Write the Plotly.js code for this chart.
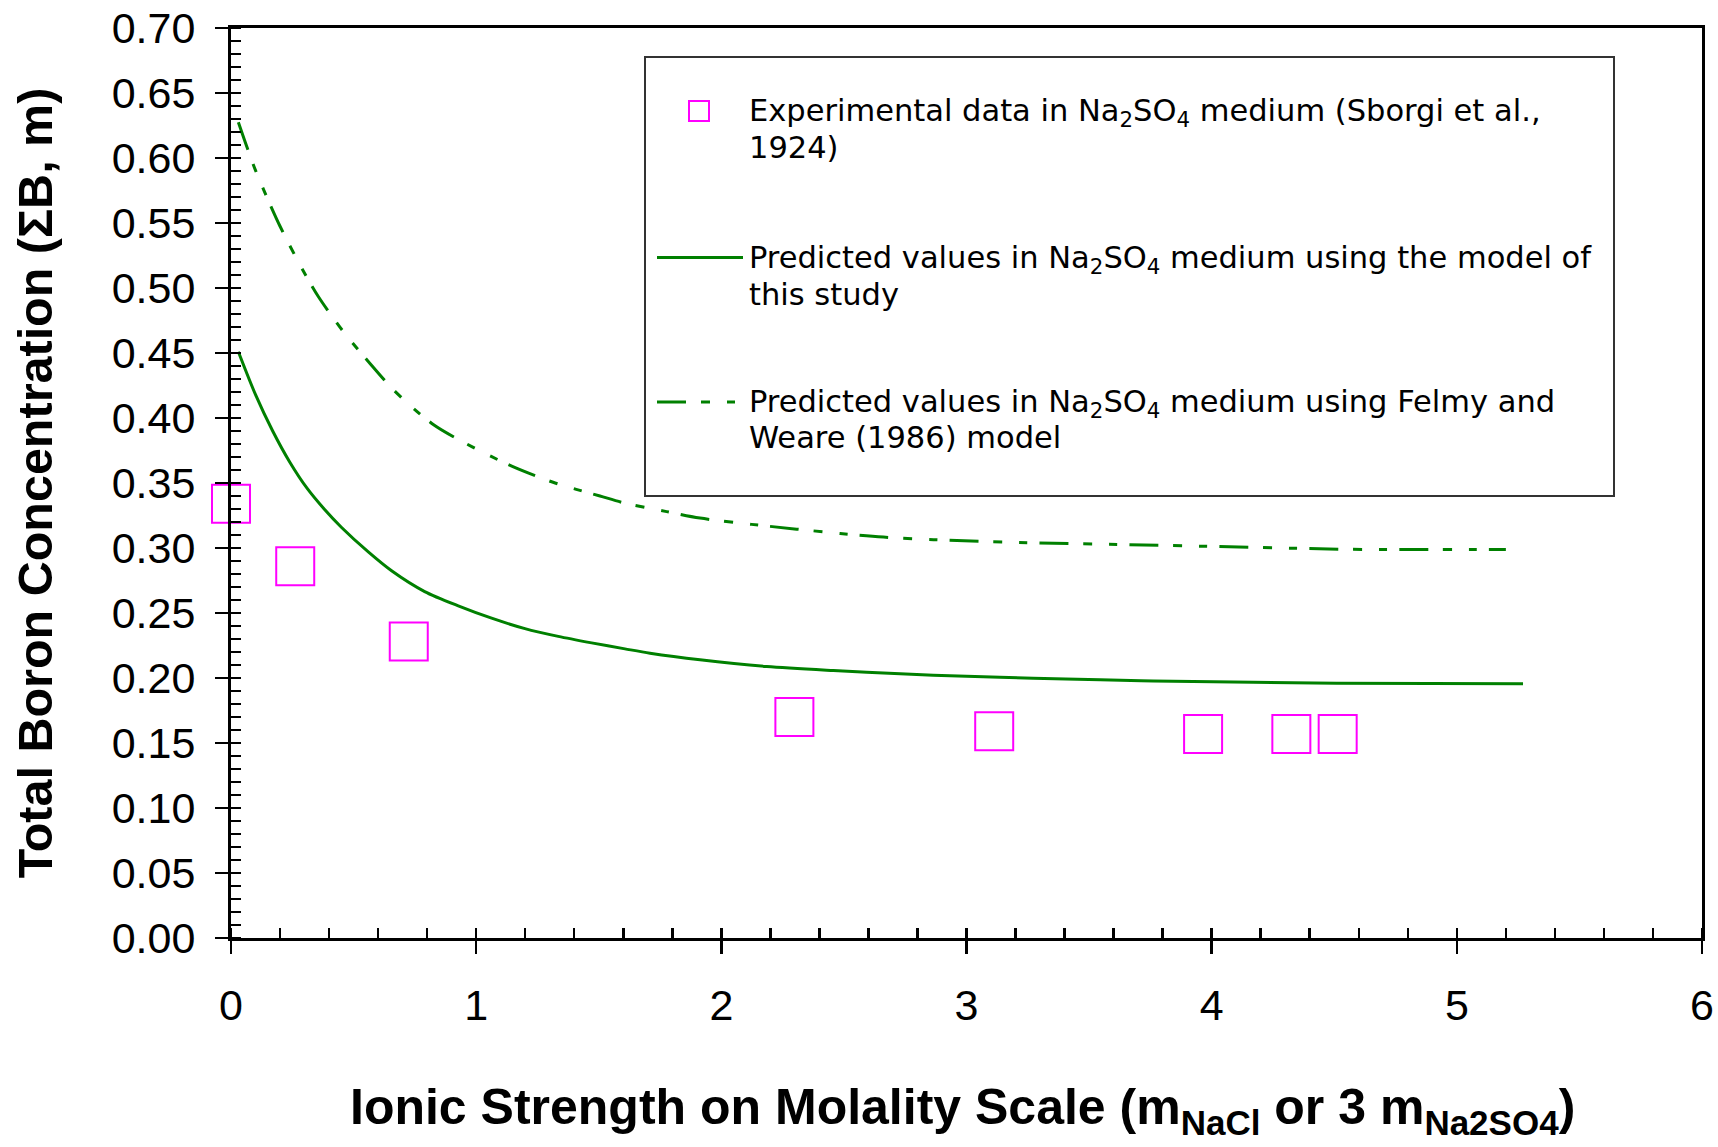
<!DOCTYPE html>
<html>
<head>
<meta charset="utf-8">
<script src="https://cdn.plot.ly/plotly-3.0.1.min.js"></script>
<style>
  html, body { margin: 0; padding: 0; background: #ffffff; }
  #chart { width: 1718px; height: 1147px; }
</style>
</head>
<body>
<div id="chart"></div>
<script>
// ---- Data ----
const expX = [0, 0.262, 0.725, 2.298, 3.113, 3.965, 4.325, 4.514];
const expY = [0.334, 0.286, 0.228, 0.170, 0.159, 0.157, 0.157, 0.157];

const modelX = [0.03, 0.1, 0.17, 0.24, 0.31, 0.38, 0.45, 0.56, 0.655, 0.79, 0.927, 1.063, 1.199, 1.335, 1.471, 1.607, 1.709, 1.913, 2.185, 2.457, 2.729, 3.0, 3.272, 3.545, 3.762, 4.51, 5.27];
const modelY = [0.451, 0.418, 0.390, 0.366, 0.346, 0.330, 0.316, 0.297, 0.2825, 0.2665, 0.2555, 0.246, 0.238, 0.232, 0.227, 0.2224, 0.2191, 0.214, 0.2088, 0.2057, 0.2032, 0.2013, 0.1998, 0.1987, 0.1977, 0.196, 0.1955];

const felmyX = [0.03, 0.1, 0.2, 0.288, 0.356, 0.458, 0.56, 0.669, 0.825, 0.982, 1.145, 1.322, 1.505, 1.607, 1.777, 1.913, 2.307, 2.661, 3.069, 3.436, 3.817, 4.184, 4.565, 4.931, 5.2];
const felmyY = [0.6275, 0.5905, 0.5475, 0.5155, 0.4935, 0.4665, 0.4435, 0.4205, 0.395, 0.378, 0.363, 0.35, 0.34, 0.3345, 0.328, 0.323, 0.3145, 0.3084, 0.305, 0.3034, 0.302, 0.3004, 0.299, 0.2989, 0.2988];

const legendLines = [
  ["Experimental data in Na<sub>2</sub>SO<sub>4</sub> medium (Sborgi et al.,", "1924)"],
  ["Predicted values in Na<sub>2</sub>SO<sub>4</sub> medium using the model of", "this study"],
  ["Predicted values in Na<sub>2</sub>SO<sub>4</sub> medium using Felmy and", "Weare (1986) model"]
];

const xTitle = "<b>Ionic Strength on Molality Scale (m<sub>NaCl</sub> or 3 m<sub>Na2SO4</sub>)</b>";
const yTitle = "<b>Total Boron Concentration (ΣB, m)</b>";

// ---- Styles ----
const GREEN = "#008000";
const MAGENTA = "#ff00ff";
const DASH = "29px,15px,9px,17px,8px,12px";
const tickFont = { family: "Liberation Sans, Arial, sans-serif", size: 43, color: "#000" };
const xTitleFont = { family: "Liberation Sans, Arial, sans-serif", size: 50, color: "#000" };
const yTitleFont = { family: "Liberation Sans, Arial, sans-serif", size: 48.5, color: "#000" };
const legFont = { family: "DejaVu Sans, Verdana, sans-serif", size: 30.5, color: "#000" };

const traces = [
  { x: modelX, y: modelY, type: "scatter", mode: "lines",
    line: { color: GREEN, width: 3, shape: "spline", smoothing: 0.8 }, name: "model", hoverinfo: "skip" },
  { x: felmyX, y: felmyY, type: "scatter", mode: "lines",
    line: { color: GREEN, width: 3, dash: DASH, shape: "spline", smoothing: 0.8 }, name: "felmy", hoverinfo: "skip" },
  { x: expX, y: expY, type: "scatter", mode: "markers", cliponaxis: false,
    marker: { symbol: "square-open", size: 38, color: MAGENTA, line: { color: MAGENTA, width: 2 } },
    name: "exp", hoverinfo: "skip" },
  { x: [null], y: [null], xaxis: "x2", yaxis: "y2", type: "scatter", mode: "markers",
    showlegend: false, hoverinfo: "skip" }
];

// legend layout (paper coords)
const L = 231, W = 1471, B = 938, H = 910;
const px = v => (v - L) / W;
const py = v => (B - v) / H;

const shapes = [
  { type: "rect", xref: "paper", yref: "paper", x0: px(645), x1: px(1614), y0: py(496), y1: py(57),
    line: { color: "#333", width: 2 }, fillcolor: "rgba(255,255,255,0)" },
  { type: "rect", xref: "paper", yref: "paper", x0: px(689), x1: px(709), y0: py(121), y1: py(101),
    line: { color: MAGENTA, width: 2 } },
  { type: "line", xref: "paper", yref: "paper", x0: px(657), x1: px(743), y0: py(257.5), y1: py(257.5),
    line: { color: GREEN, width: 3 } },
  { type: "line", xref: "paper", yref: "paper", x0: px(657), x1: px(743), y0: py(402), y1: py(402),
    line: { color: GREEN, width: 3, dash: DASH } }
];

const lineYs = [[112, 147], [259, 295], [403.5, 438]];
const annotations = [];
legendLines.forEach((pair, i) => {
  pair.forEach((t, j) => {
    annotations.push({ xref: "paper", yref: "paper", x: px(747), y: py(lineYs[i][j]),
      xanchor: "left", yanchor: "middle", text: t, showarrow: false, font: legFont });
  });
});
// x-axis title (placed as an annotation so it can sit low, near the bottom edge like the original)
annotations.push({ xref: "paper", yref: "paper", x: px(962), y: py(1110),
  xanchor: "center", yanchor: "middle", text: xTitle, showarrow: false, font: xTitleFont });

const layout = {
  width: 1718, height: 1147,
  margin: { l: 231, r: 16, t: 28, b: 209, pad: 0 },
  paper_bgcolor: "#fff", plot_bgcolor: "#fff",
  showlegend: false,
  xaxis: {
    range: [0, 6], dtick: 1, tick0: 0, showgrid: false, zeroline: false,
    showline: true, linecolor: "#000", linewidth: 3, mirror: true,
    ticks: "outside", ticklen: 13, tickwidth: 2.5, tickcolor: "#000",
    tickfont: tickFont, ticklabelstandoff: 14,
    minor: { ticks: "inside", ticklen: 10, tickwidth: 2.5, tickcolor: "#000", dtick: 0.2, showgrid: false },
    automargin: false
  },
  yaxis: {
    range: [0, 0.7], dtick: 0.05, tick0: 0, tickformat: ".2f", showgrid: false, zeroline: false,
    showline: true, linecolor: "#000", linewidth: 3, mirror: true,
    ticks: "outside", ticklen: 13, tickwidth: 2.5, tickcolor: "#000",
    tickfont: tickFont, ticklabelstandoff: 11,
    minor: { ticks: "inside", ticklen: 10, tickwidth: 2.5, tickcolor: "#000", dtick: 0.01, showgrid: false },
    title: { text: yTitle, font: yTitleFont, standoff: 44 },
    automargin: false
  },
  xaxis2: {
    overlaying: "x", anchor: "y2", range: [0, 6], dtick: 1, tick0: 0,
    showgrid: false, zeroline: false, showline: false, showticklabels: false,
    ticks: "inside", ticklen: 10, tickwidth: 2.5, tickcolor: "#000"
  },
  yaxis2: {
    overlaying: "y", anchor: "x2", range: [0, 0.7], dtick: 0.05, tick0: 0,
    showgrid: false, zeroline: false, showline: false, showticklabels: false,
    ticks: "inside", ticklen: 10, tickwidth: 2.5, tickcolor: "#000"
  },
  shapes: shapes,
  annotations: annotations
};

Plotly.newPlot("chart", traces, layout, { displayModeBar: false, staticPlot: true });
</script>
</body>
</html>
